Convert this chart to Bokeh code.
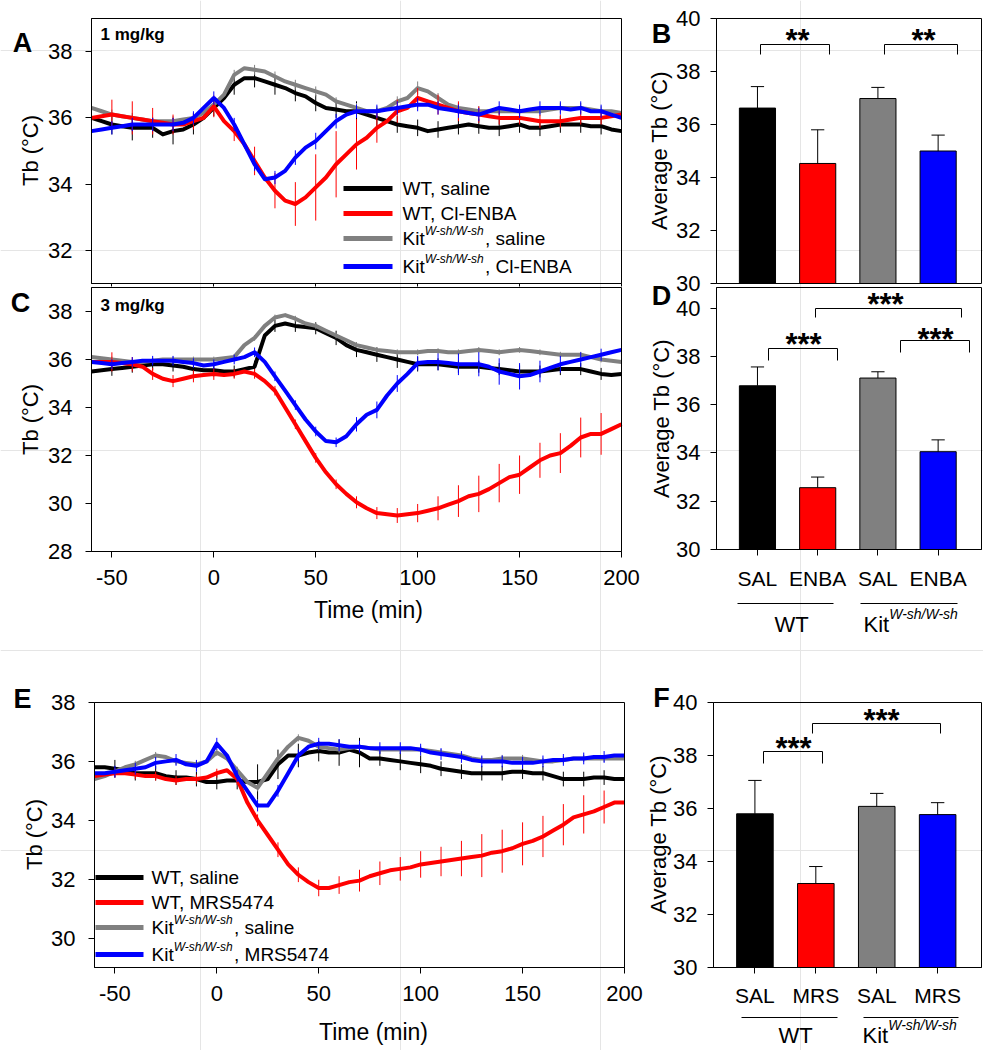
import math
from bokeh.plotting import figure
from bokeh.models import (Label, Range1d, FixedTicker, Arrow, LinearAxis, BoxAnnotation)
from bokeh.embed import file_html
from bokeh.resources import INLINE

FONT = "Liberation Sans"
BLACK, RED, GRAY, BLUE = "#000000", "#ff0000", "#808080", "#0000ff"

# ---------------- time-course data (Tb, deg C) ----------------
TIME = list(range(-60, 201, 5))        # 53 points
ERR_TIME = list(range(-50, 201, 10))   # 26 points
TIME_TICKS = [-50, 0, 50, 100, 150, 200]
TIME_TICK_LABELS = ["-50", "0", "50", "100", "150", "200"]

# Panel A : 1 mg/kg Cl-ENBA
A_WT_SAL = [36.0, 35.9, 35.8, 35.75, 35.7, 35.7, 35.7, 35.5, 35.6, 35.65,
            35.8, 36.0, 36.3, 36.6, 37.0, 37.2, 37.2, 37.1, 37.0, 36.9,
            36.75, 36.65, 36.45, 36.3, 36.25, 36.2, 36.2, 36.1, 36.0, 35.9,
            35.8, 35.75, 35.7, 35.6, 35.65, 35.7, 35.75, 35.8, 35.75, 35.7,
            35.7, 35.75, 35.8, 35.7, 35.7, 35.75, 35.8, 35.8, 35.8, 35.75,
            35.75, 35.65, 35.6]
A_WT_DRUG = [36.0, 36.05, 36.1, 36.05, 36.0, 35.95, 35.9, 35.85, 35.8, 35.8,
             35.9, 36.0, 36.35, 35.9, 35.6, 35.2, 34.7, 34.2, 33.8, 33.5,
             33.4, 33.6, 33.9, 34.2, 34.6, 34.9, 35.2, 35.4, 35.7, 35.9,
             36.2, 36.3, 36.6, 36.5, 36.4, 36.3, 36.2, 36.15, 36.1, 36.05,
             36.0, 36.0, 36.0, 35.95, 35.9, 35.9, 35.9, 35.95, 36.0, 36.0,
             36.0, 36.05, 36.1]
A_KIT_SAL = [36.3, 36.2, 36.1, 36.05, 36.0, 35.95, 35.9, 35.9, 35.9, 35.95,
             36.0, 36.15, 36.4, 36.7, 37.3, 37.5, 37.45, 37.4, 37.25, 37.1,
             37.0, 36.9, 36.8, 36.7, 36.5, 36.4, 36.3, 36.2, 36.2, 36.3,
             36.5, 36.6, 36.9, 36.8, 36.6, 36.4, 36.3, 36.25, 36.2, 36.2,
             36.2, 36.2, 36.2, 36.2, 36.2, 36.25, 36.3, 36.3, 36.3, 36.25,
             36.2, 36.2, 36.15]
A_KIT_DRUG = [35.6, 35.65, 35.7, 35.75, 35.8, 35.8, 35.8, 35.8, 35.8, 35.85,
              36.0, 36.3, 36.6, 36.3, 35.8, 35.2, 34.6, 34.15, 34.2, 34.4,
              34.8, 35.1, 35.3, 35.6, 35.9, 36.1, 36.2, 36.2, 36.2, 36.25,
              36.3, 36.35, 36.4, 36.4, 36.3, 36.25, 36.2, 36.15, 36.1, 36.2,
              36.3, 36.25, 36.2, 36.25, 36.3, 36.3, 36.3, 36.25, 36.3, 36.2,
              36.2, 36.1, 36.0]
A_ERR_WT_SAL = [0.30, 0.38, 0.30, 0.40, 0.30,
                0.25, 0.30, 0.28, 0.30, 0.25,
                0.25, 0.25, 0.30, 0.30, 0.25,
                0.25, 0.25, 0.25, 0.23, 0.25,
                0.25, 0.25, 0.25, 0.25, 0.25,
                0.25]
A_ERR_WT_DRUG = [0.45, 0.50, 0.40, 0.30, 0.25,
                 0.33, 0.30, 0.43, 0.53, 0.66,
                 1.00, 1.00, 0.76, 0.45, 0.35,
                 0.30, 0.30, 0.30, 0.25, 0.20,
                 0.20, 0.20, 0.20, 0.20, 0.20,
                 0.20]
A_ERR_KIT_SAL = [0.15, 0.15, 0.12, 0.15, 0.15,
                 0.15, 0.15, 0.15, 0.15, 0.15,
                 0.15, 0.12, 0.15, 0.15, 0.15,
                 0.20, 0.15, 0.15, 0.15, 0.15,
                 0.15, 0.15, 0.15, 0.15, 0.15,
                 0.15]
A_ERR_KIT_DRUG = [0.20, 0.20, 0.20, 0.20, 0.20,
                  0.20, 0.20, 0.20, 0.20, 0.22,
                  0.25, 0.22, 0.20, 0.20, 0.20,
                  0.20, 0.20, 0.20, 0.20, 0.20,
                  0.20, 0.20, 0.20, 0.20, 0.20,
                  0.20]

# Panel C : 3 mg/kg Cl-ENBA
C_WT_SAL = [35.5, 35.55, 35.6, 35.65, 35.7, 35.75, 35.8, 35.8, 35.75, 35.7,
            35.6, 35.55, 35.55, 35.5, 35.5, 35.6, 35.7, 37.0, 37.4, 37.5,
            37.4, 37.35, 37.3, 37.1, 36.9, 36.6, 36.4, 36.3, 36.2, 36.1,
            36.0, 35.9, 35.8, 35.8, 35.8, 35.75, 35.7, 35.7, 35.7, 35.65,
            35.6, 35.55, 35.5, 35.5, 35.5, 35.55, 35.6, 35.6, 35.6, 35.5,
            35.4, 35.35, 35.4]
C_WT_DRUG = [35.9, 35.9, 35.9, 35.85, 35.8, 35.7, 35.4, 35.2, 35.1, 35.2,
             35.3, 35.35, 35.4, 35.35, 35.4, 35.5, 35.4, 35.1, 34.7, 34.0,
             33.3, 32.6, 31.9, 31.3, 30.8, 30.4, 30.05, 29.8, 29.6, 29.55,
             29.5, 29.55, 29.6, 29.7, 29.8, 29.95, 30.1, 30.3, 30.4, 30.6,
             30.85, 31.1, 31.2, 31.5, 31.8, 32.0, 32.1, 32.4, 32.75, 32.9,
             32.9, 33.1, 33.3]
C_KIT_SAL = [36.1, 36.05, 36.0, 35.95, 35.9, 35.9, 35.95, 36.0, 36.0, 36.0,
             36.0, 36.0, 36.0, 36.05, 36.1, 36.6, 36.9, 37.4, 37.75, 37.85,
             37.7, 37.5, 37.4, 37.2, 37.0, 36.8, 36.6, 36.5, 36.4, 36.35,
             36.3, 36.3, 36.3, 36.35, 36.35, 36.3, 36.3, 36.35, 36.4, 36.35,
             36.3, 36.35, 36.4, 36.35, 36.3, 36.25, 36.2, 36.2, 36.2, 36.1,
             36.0, 35.95, 35.9]
C_KIT_DRUG = [35.9, 35.85, 35.8, 35.85, 35.9, 35.95, 35.95, 35.95, 35.95, 35.9,
              35.85, 35.75, 35.8, 35.9, 36.0, 36.1, 36.3, 35.9, 35.3, 34.7,
              34.1, 33.5, 33.0, 32.6, 32.55, 32.8, 33.3, 33.7, 33.9, 34.5,
              35.0, 35.4, 35.85, 35.9, 35.9, 35.85, 35.8, 35.8, 35.8, 35.7,
              35.5, 35.4, 35.3, 35.35, 35.5, 35.65, 35.8, 35.9, 36.0, 36.1,
              36.2, 36.3, 36.4]
C_ERR_WT_SAL = [0.28, 0.25, 0.25, 0.25, 0.25,
                0.25, 0.25, 0.25, 0.25, 0.25,
                0.25, 0.30, 0.30, 0.30, 0.35,
                0.30, 0.25, 0.25, 0.25, 0.25,
                0.25, 0.25, 0.25, 0.25, 0.25,
                0.25]
C_ERR_WT_DRUG = [0.40, 0.30, 0.25, 0.25, 0.25,
                 0.25, 0.20, 0.20, 0.20, 0.20,
                 0.20, 0.20, 0.25, 0.25, 0.31,
                 0.38, 0.50, 0.66, 0.76, 0.80,
                 0.80, 0.73, 0.83, 0.83, 0.87,
                 0.85]
C_ERR_KIT_SAL = [0.12, 0.12, 0.12, 0.12, 0.12,
                 0.12, 0.12, 0.12, 0.12, 0.12,
                 0.12, 0.12, 0.12, 0.12, 0.12,
                 0.12, 0.12, 0.12, 0.12, 0.12,
                 0.12, 0.12, 0.12, 0.12, 0.12,
                 0.12]
C_ERR_KIT_DRUG = [0.20, 0.20, 0.20, 0.20, 0.20,
                  0.20, 0.20, 0.20, 0.20, 0.20,
                  0.20, 0.20, 0.30, 0.35, 0.35,
                  0.30, 0.35, 0.45, 0.50, 0.55,
                  0.55, 0.45, 0.35, 0.30, 0.25,
                  0.25]

# Panel E : MRS5474
E_WT_SAL = [35.8, 35.8, 35.75, 35.7, 35.6, 35.6, 35.6, 35.5, 35.45, 35.45,
            35.4, 35.3, 35.3, 35.35, 35.35, 35.3, 35.3, 35.4, 35.9, 36.2,
            36.2, 36.3, 36.35, 36.3, 36.3, 36.4, 36.3, 36.1, 36.1, 36.05,
            36.0, 35.95, 35.9, 35.85, 35.75, 35.7, 35.65, 35.6, 35.6, 35.6,
            35.6, 35.65, 35.65, 35.6, 35.6, 35.5, 35.4, 35.4, 35.4, 35.45,
            35.45, 35.4, 35.4]
E_WT_DRUG = [35.5, 35.55, 35.6, 35.6, 35.55, 35.5, 35.5, 35.4, 35.35, 35.4,
             35.4, 35.45, 35.6, 35.7, 35.4, 34.6, 34.0, 33.5, 33.0, 32.5,
             32.15, 31.9, 31.7, 31.7, 31.8, 31.9, 31.95, 32.1, 32.2, 32.3,
             32.35, 32.4, 32.5, 32.55, 32.6, 32.65, 32.7, 32.75, 32.8, 32.9,
             32.95, 33.05, 33.2, 33.3, 33.45, 33.65, 33.85, 34.1, 34.2, 34.3,
             34.45, 34.6, 34.6]
E_KIT_SAL = [35.4, 35.5, 35.65, 35.8, 35.9, 36.05, 36.2, 36.15, 36.0, 35.95,
             35.9, 36.0, 36.3, 36.1, 35.7, 35.3, 35.1, 35.6, 36.1, 36.5,
             36.8, 36.7, 36.5, 36.45, 36.4, 36.45, 36.5, 36.45, 36.4, 36.4,
             36.4, 36.4, 36.4, 36.35, 36.3, 36.25, 36.2, 36.1, 36.05, 36.05,
             36.1, 36.1, 36.1, 36.05, 36.0, 36.0, 36.05, 36.1, 36.1, 36.1,
             36.1, 36.1, 36.1]
E_KIT_DRUG = [35.6, 35.6, 35.65, 35.7, 35.75, 35.8, 35.95, 36.0, 36.05, 35.9,
              35.85, 36.0, 36.6, 36.2, 35.5, 35.0, 34.5, 34.5, 35.0, 35.6,
              36.2, 36.5, 36.6, 36.6, 36.55, 36.5, 36.5, 36.45, 36.45, 36.45,
              36.45, 36.45, 36.4, 36.3, 36.25, 36.2, 36.15, 36.05, 36.0, 36.0,
              36.0, 35.95, 35.95, 35.95, 36.0, 36.05, 36.05, 36.1, 36.1, 36.15,
              36.15, 36.2, 36.2]
E_ERR_WT_SAL = [0.30, 0.25, 0.25, 0.25, 0.25,
                0.25, 0.30, 0.60, 0.50, 0.40,
                0.35, 0.45, 0.50, 0.25, 0.30,
                0.30, 0.25, 0.25, 0.25, 0.25,
                0.25, 0.25, 0.25, 0.25, 0.25,
                0.25]
E_ERR_WT_DRUG = [0.15, 0.15, 0.15, 0.15, 0.15,
                 0.15, 0.20, 0.20, 0.25, 0.25,
                 0.28, 0.30, 0.37, 0.40, 0.40,
                 0.45, 0.50, 0.60, 0.73, 0.73,
                 0.73, 0.70, 0.70, 0.65, 0.56,
                 0.50]
E_ERR_KIT_SAL = [0.12, 0.12, 0.12, 0.12, 0.12,
                 0.12, 0.12, 0.12, 0.12, 0.12,
                 0.12, 0.12, 0.12, 0.12, 0.12,
                 0.12, 0.12, 0.12, 0.12, 0.12,
                 0.12, 0.12, 0.12, 0.12, 0.12,
                 0.12]
E_ERR_KIT_DRUG = [0.20, 0.20, 0.20, 0.20, 0.20,
                  0.20, 0.20, 0.20, 0.20, 0.20,
                  0.20, 0.20, 0.20, 0.20, 0.20,
                  0.20, 0.20, 0.20, 0.20, 0.20,
                  0.20, 0.20, 0.20, 0.20, 0.20,
                  0.20]

# ---------------- bar data (average Tb) ----------------
BAR_POS = [0, 1, 2, 3]
BAR_COLORS = [BLACK, RED, GRAY, BLUE]
B_MEAN = [36.62, 34.53, 36.98, 35.00]
B_SEM = [0.81, 1.27, 0.42, 0.60]
D_MEAN = [36.78, 32.56, 37.10, 34.05]
D_SEM = [0.78, 0.44, 0.26, 0.49]
F_MEAN = [35.80, 33.17, 36.08, 35.77]
F_SEM = [1.26, 0.64, 0.49, 0.45]
D_LABELS = ["SAL", "ENBA", "SAL", "ENBA"]
F_LABELS = ["SAL", "MRS", "SAL", "MRS"]
SUP = "W-sh/W-sh"

# ---------------- layout: one canvas, each panel has its own ranges & axes ----------------
W, H = 983, 1050
PANELS = {   # box = (left, top, width, height) of the panel frame in canvas pixels
    "A": dict(box=(91, 18, 530, 265), xr=(-60, 200), yr=(31, 39)),
    "C": dict(box=(91, 287, 530, 264), xr=(-60, 200), yr=(28, 39)),
    "E": dict(box=(94, 702, 530, 265), xr=(-60, 200), yr=(29, 38)),
    "B": dict(box=(716, 18, 265, 265), xr=(-0.68, 3.72), yr=(30, 40)),
    "D": dict(box=(716, 287, 265, 262), xr=(-0.68, 3.72), yr=(30, 40.85)),
    "F": dict(box=(713, 702, 268, 265), xr=(-0.68, 3.72), yr=(30, 40)),
}


def canvas_ranges(key):
    g = PANELS[key]
    bl, bt, bw, bh = g["box"]
    x0, x1 = g["xr"]
    y0, y1 = g["yr"]
    sx = (x1 - x0) / bw
    sy = (y1 - y0) / bh
    return (Range1d(x0 - bl * sx, x1 + (W - bl - bw) * sx),
            Range1d(y0 - (H - bt - bh) * sy, y1 + bt * sy))


def at(key, px, py):
    g = PANELS[key]
    bl, bt, bw, bh = g["box"]
    x0, x1 = g["xr"]
    y0, y1 = g["yr"]
    return (x0 + (px - bl) / bw * (x1 - x0), y1 - (py - bt) / bh * (y1 - y0))


p = figure(width=W, height=H, x_range=Range1d(0, W), y_range=Range1d(0, H),
           min_border=0, min_border_left=0, min_border_right=0, min_border_top=0,
           min_border_bottom=0, x_axis_location=None, y_axis_location=None,
           toolbar_location=None, output_backend="svg", title=None)
p.outline_line_color = None
p.background_fill_color = "white"
p.border_fill_color = "white"
p.extra_x_ranges = {k: canvas_ranges(k)[0] for k in PANELS}
p.extra_y_ranges = {k: canvas_ranges(k)[1] for k in PANELS}


def rn(key):
    return dict(x_range_name=key, y_range_name=key)


def txt(key, px, py, text, size, style="normal", align="left", baseline="alphabetic", angle=0.0):
    # py is the intended baseline; the label anchor is placed at the middle of the capitals
    if baseline == "alphabetic":
        py = py - 0.36 * size
    x, y = at(key, px, py)
    p.add_layout(Label(x=x, y=y, text=text, text_font=FONT, text_font_size=f"{size}px",
                       text_font_style=style, text_align=align, text_baseline=baseline,
                       text_color="black", angle=angle, **rn(key)))


def seg(key, px0, py0, px1, py1, color="black", width=1):
    x0, y0 = at(key, px0, py0)
    x1, y1 = at(key, px1, py1)
    p.add_layout(Arrow(start=None, end=None, x_start=x0, y_start=y0, x_end=x1, y_end=y1,
                       line_color=color, line_width=width, **rn(key)))


def style_axis(ax, size="22px"):
    ax.axis_line_color = "black"
    ax.major_tick_line_color = "black"
    ax.minor_tick_line_color = None
    ax.major_tick_out = 6
    ax.major_tick_in = 0
    ax.major_label_text_font = FONT
    ax.major_label_text_font_size = size
    ax.major_label_text_color = "black"


def frame_box(key):
    g = PANELS[key]
    p.add_layout(BoxAnnotation(left=g["xr"][0], right=g["xr"][1], bottom=g["yr"][0],
                               top=g["yr"][1], fill_color=None, fill_alpha=0,
                               line_color="black", line_width=1, line_alpha=1, **rn(key)))


def y_axis(key, ticks, standoff):
    g = PANELS[key]
    ax = LinearAxis(fixed_location=g["xr"][0], bounds=g["yr"],
                    ticker=FixedTicker(ticks=ticks, minor_ticks=[]), **rn(key))
    style_axis(ax)
    ax.major_label_standoff = standoff
    p.add_layout(ax, "left")


def x_axis(key, ticks, labels, size, standoff, tick_out=6):
    g = PANELS[key]
    ax = LinearAxis(fixed_location=g["yr"][0], bounds=g["xr"],
                    ticker=FixedTicker(ticks=ticks, minor_ticks=[]), **rn(key))
    style_axis(ax, size)
    ax.major_tick_out = tick_out
    if labels:
        ax.major_label_overrides = {t: s for t, s in zip(ticks, labels)}
        ax.major_label_standoff = standoff
    else:
        ax.major_label_text_color = None
    p.add_layout(ax, "below")


def add_series(key, vals, errs, color):
    p.line(TIME, vals, line_color=color, line_width=4, line_join="round", **rn(key))
    ys = [vals[TIME.index(t)] for t in ERR_TIME]
    p.segment(x0=ERR_TIME, x1=ERR_TIME, y0=[y - e for y, e in zip(ys, errs)],
              y1=[y + e for y, e in zip(ys, errs)], line_color=color, line_width=1, **rn(key))


def add_bars(key, means, sems):
    p.vbar(x=BAR_POS, top=means, bottom=30, width=0.6, fill_color=BAR_COLORS,
           line_color="black", line_width=1, **rn(key))
    tops = [m + s for m, s in zip(means, sems)]
    p.segment(x0=BAR_POS, x1=BAR_POS, y0=means, y1=tops, line_color="black", line_width=1,
              **rn(key))
    p.segment(x0=[x - 0.11 for x in BAR_POS], x1=[x + 0.11 for x in BAR_POS], y0=tops, y1=tops,
              line_color="black", line_width=1, **rn(key))


def bracket(key, xl, xr, ytop, ydl, ydr):
    seg(key, xl, ydl, xl, ytop)
    seg(key, xl, ytop, xr, ytop)
    seg(key, xr, ytop, xr, ydr)


def stars(key, cx, cy, text):
    # cy: visual centre of the asterisks (they sit ~0.57 em above the baseline)
    txt(key, cx, cy + 0.57 * 31, text, 31, style="bold", align="center")


def legend(key, lx0, lx1, tx, rows, entries, size=19, sup_size=12):
    for ry, (color, pre, sup, post) in zip(rows, entries):
        seg(key, lx0, ry, lx1, ry, color=color, width=5)
        if sup:
            txt(key, tx, ry + 7, pre, size)
            sx = tx + 1.167 * size
            txt(key, sx, ry - 3, sup, sup_size, style="italic")
            txt(key, sx + 4.944 * sup_size + 1, ry + 7, post, size)
        else:
            txt(key, tx, ry + 7, pre + post, size)


def group_labels(key, line_y, wt_line, kit_line, wt_cx, kit_x, base_y, sup_y):
    seg(key, wt_line[0], line_y, wt_line[1], line_y)
    seg(key, kit_line[0], line_y, kit_line[1], line_y)
    txt(key, wt_cx, base_y, "WT", 22, align="center")
    txt(key, kit_x, base_y, "Kit", 22)
    txt(key, kit_x + 1.167 * 22, sup_y, SUP, 14, style="italic")


def ytitle(key, px, py, text):
    txt(key, px, py, text, 22, align="center", baseline="middle", angle=math.pi / 2)


# ---------------- Panel A ----------------
add_series("A", A_WT_SAL, A_ERR_WT_SAL, BLACK)
add_series("A", A_KIT_SAL, A_ERR_KIT_SAL, GRAY)
add_series("A", A_WT_DRUG, A_ERR_WT_DRUG, RED)
add_series("A", A_KIT_DRUG, A_ERR_KIT_DRUG, BLUE)
frame_box("A")
y_axis("A", [32, 34, 36, 38], 13)
x_axis("A", TIME_TICKS, None, "22px", 0, tick_out=3)
ytitle("A", 30, 150, "Tb (°C)")
txt("A", 22, 52, "A", 27, style="bold", align="center")
txt("A", 100, 40, "1 mg/kg", 17, style="bold")
legend("A", 343, 392, 402, [188, 213, 238, 266],
       [(BLACK, "WT", "", ", saline"), (RED, "WT", "", ", Cl-ENBA"),
        (GRAY, "Kit", SUP, ", saline"), (BLUE, "Kit", SUP, ", Cl-ENBA")])

# ---------------- Panel B ----------------
add_bars("B", B_MEAN, B_SEM)
frame_box("B")
y_axis("B", [30, 32, 34, 36, 38, 40], 10)
ytitle("B", 659, 150, "Average Tb (°C)")
txt("B", 661, 43, "B", 27, style="bold", align="center")
bracket("B", 760, 829, 44, 54, 54)
bracket("B", 884, 957, 44, 54, 54)
stars("B", 797, 33, "**")
stars("B", 923, 33, "**")

# ---------------- Panel C ----------------
add_series("C", C_WT_SAL, C_ERR_WT_SAL, BLACK)
add_series("C", C_KIT_SAL, C_ERR_KIT_SAL, GRAY)
add_series("C", C_WT_DRUG, C_ERR_WT_DRUG, RED)
add_series("C", C_KIT_DRUG, C_ERR_KIT_DRUG, BLUE)
frame_box("C")
y_axis("C", [28, 30, 32, 34, 36, 38], 13)
x_axis("C", TIME_TICKS, TIME_TICK_LABELS, "22px", 12)
ytitle("C", 30, 419, "Tb (°C)")
txt("C", 368, 618, "Time (min)", 23, align="center")
txt("C", 20, 312, "C", 27, style="bold", align="center")
txt("C", 100, 311, "3 mg/kg", 17, style="bold")

# ---------------- Panel D ----------------
add_bars("D", D_MEAN, D_SEM)
frame_box("D")
y_axis("D", [30, 32, 34, 36, 38, 40], 10)
x_axis("D", BAR_POS, D_LABELS, "21px", 11)
ytitle("D", 661, 418, "Average Tb (°C)")
txt("D", 661, 305, "D", 27, style="bold", align="center")
bracket("D", 768, 837, 348, 360, 360)
bracket("D", 900, 969, 340, 352, 352)
bracket("D", 815, 961, 308, 317, 317)
stars("D", 803, 337, "***")
stars("D", 935, 332, "***")
stars("D", 885, 297, "***")
group_labels("D", 603, (737, 833), (860, 957), 791, 863, 632, 619)

# ---------------- Panel E ----------------
add_series("E", E_WT_SAL, E_ERR_WT_SAL, BLACK)
add_series("E", E_KIT_SAL, E_ERR_KIT_SAL, GRAY)
add_series("E", E_WT_DRUG, E_ERR_WT_DRUG, RED)
add_series("E", E_KIT_DRUG, E_ERR_KIT_DRUG, BLUE)
frame_box("E")
y_axis("E", [30, 32, 34, 36, 38], 13)
x_axis("E", TIME_TICKS, TIME_TICK_LABELS, "22px", 12)
ytitle("E", 34, 834, "Tb (°C)")
txt("E", 373, 1040, "Time (min)", 23, align="center")
txt("E", 22, 708, "E", 27, style="bold", align="center")
legend("E", 95, 143, 151, [877, 902, 927, 954],
       [(BLACK, "WT", "", ", saline"), (RED, "WT", "", ", MRS5474"),
        (GRAY, "Kit", SUP, ", saline"), (BLUE, "Kit", SUP, ", MRS5474")])

# ---------------- Panel F ----------------
add_bars("F", F_MEAN, F_SEM)
frame_box("F")
y_axis("F", [30, 32, 34, 36, 38, 40], 10)
x_axis("F", BAR_POS, F_LABELS, "21px", 10)
ytitle("F", 658, 834, "Average Tb (°C)")
txt("F", 661, 707, "F", 27, style="bold", align="center")
bracket("F", 763, 822, 751, 763, 763)
bracket("F", 812, 940, 723, 733, 733)
stars("F", 793, 741, "***")
stars("F", 881, 713, "***")
group_labels("F", 1017, (741, 837), (863, 958), 795, 862, 1043, 1030)

with open("out.html", "w") as f:
    f.write(file_html(p, INLINE))
